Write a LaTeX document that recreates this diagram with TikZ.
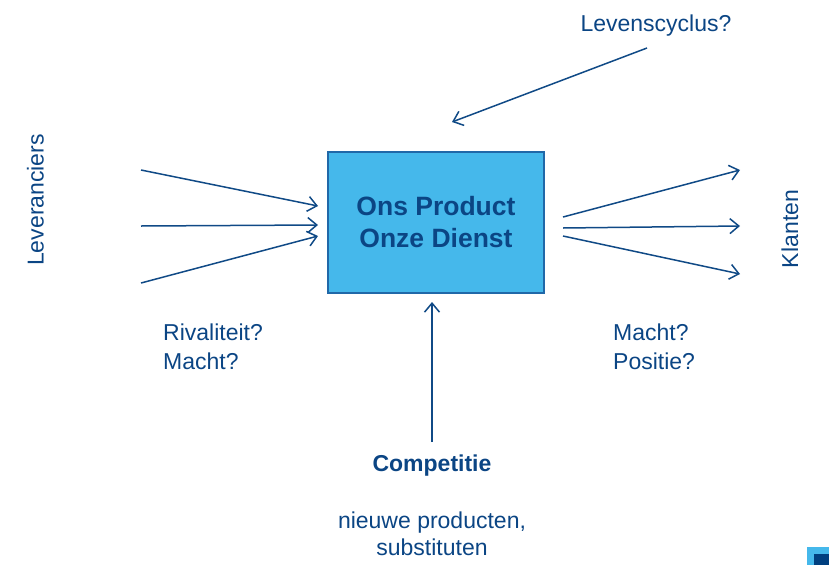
\documentclass[tikz,border=0pt]{standalone}
\usepackage{fontspec}
\setmainfont{Liberation Sans}
\usetikzlibrary{arrows.meta}
\definecolor{txtblue}{HTML}{0B4584}
\definecolor{boxfill}{HTML}{45B8EB}
\definecolor{boxline}{HTML}{2068A8}
\definecolor{arrowblue}{HTML}{104A86}
\definecolor{darkblue}{HTML}{003F7F}
\begin{document}
\begin{tikzpicture}[x=1pt,y=-1pt,
  lbl/.style={text=txtblue, font=\fontsize{23}{29}\selectfont, inner sep=0pt},
  blbl/.style={text=txtblue, font=\fontsize{23}{29}\selectfont\bfseries, inner sep=0pt},
  conn/.style={draw=arrowblue, line width=1.5pt, -{Straight Barb[length=9pt,width=15pt,line width=1.5pt]}}]
\useasboundingbox (0,0) rectangle (829,565);

% central box
\node[draw=boxline, fill=boxfill, line width=1.3pt, minimum width=216pt, minimum height=141pt,
      inner sep=0pt, align=center, text=txtblue, font=\fontsize{26.5}{32}\selectfont\bfseries]
      (prod) at (436,222.5) {Ons Product\\Onze Dienst};

% labels
\node[lbl, anchor=base] (lev) at (656,31) {Levenscyclus?};
\node[lbl, anchor=base west] (riv) at (163,340) {Rivaliteit?};
\node[lbl, anchor=base west] (mac1) at (163,369) {Macht?};
\node[lbl, anchor=base west] (mac2) at (613,340) {Macht?};
\node[lbl, anchor=base west] (pos) at (613,369) {Positie?};
\node[blbl, anchor=base] (comp) at (432,471) {Competitie};
\node[lbl, anchor=base] (nieuw) at (432,528) {nieuwe producten,};
\node[lbl, anchor=base] (subs) at (432,555) {substituten};
\node[lbl, anchor=base, rotate=90] (leverc) at (43.5,200) {Leveranciers};
\node[lbl, anchor=base, rotate=90] (klant) at (798,229) {Klanten};

% arrow end points
\coordinate (l1s) at (141,170); \coordinate (l1e) at (318,206);
\coordinate (l2s) at (141,226); \coordinate (l2e) at (318,225);
\coordinate (l3s) at (141,283); \coordinate (l3e) at (318,236);
\coordinate (r1s) at (563,217); \coordinate (r1e) at (740,170);
\coordinate (r2s) at (563,228); \coordinate (r2e) at (740,226);
\coordinate (r3s) at (563,236); \coordinate (r3e) at (740,274);
\coordinate (ts) at (647,48); \coordinate (te) at (452,122);
\coordinate (bs) at (432,442); \coordinate (be) at (432,302);

\draw[conn] (l1s) -- (l1e);
\draw[conn] (l2s) -- (l2e);
\draw[conn] (l3s) -- (l3e);
\draw[conn] (r1s) -- (r1e);
\draw[conn] (r2s) -- (r2e);
\draw[conn] (r3s) -- (r3e);
\draw[conn] (ts) -- (te);
\draw[conn] (bs) -- (be);

% corner mark
\fill[boxfill] (807,547) rectangle (829,565);
\fill[darkblue] (814,554) rectangle (829,565);
\end{tikzpicture}
\end{document}
